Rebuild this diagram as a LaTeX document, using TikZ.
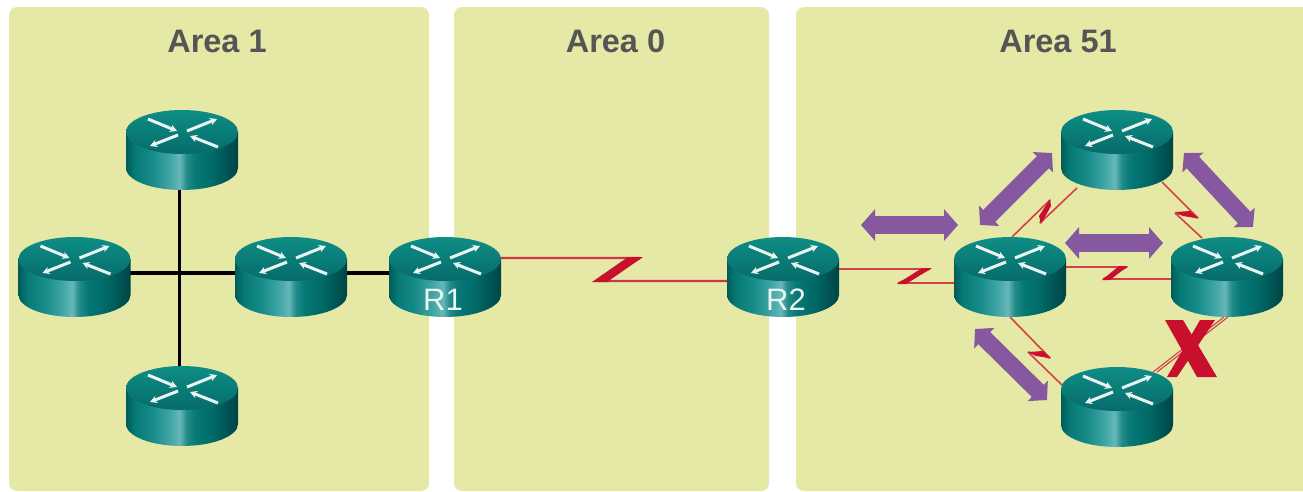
\documentclass[tikz,border=0pt]{standalone}
\usepackage{fontspec}
\setmainfont{Liberation Sans}
\usetikzlibrary{arrows.meta,calc}
\definecolor{areabg}{HTML}{E5E9A5}
\definecolor{serialred}{HTML}{C8102E}
\definecolor{seriallight}{HTML}{D2404A}
\definecolor{flowpurple}{HTML}{8558A0}
\definecolor{labelgray}{HTML}{555555}
\definecolor{rtop}{HTML}{0E8E86}
\definecolor{rbot}{HTML}{066B6A}
\definecolor{rarrow}{HTML}{EAF4F2}
\pgfdeclarehorizontalshading{routerbody}{100bp}{
  rgb(0bp)=(0,0.36,0.35);
  rgb(25bp)=(0,0.36,0.35);
  rgb(29bp)=(0.03,0.48,0.46);
  rgb(36bp)=(0.08,0.54,0.53);
  rgb(44bp)=(0.24,0.64,0.64);
  rgb(49bp)=(0.40,0.72,0.72);
  rgb(52bp)=(0.14,0.55,0.54);
  rgb(56bp)=(0.02,0.47,0.46);
  rgb(64bp)=(0.0,0.41,0.40);
  rgb(75bp)=(0,0.27,0.27);
  rgb(100bp)=(0,0.27,0.27)}
\tikzset{
  x=1pt,y=-1pt,
  areapanel/.style={fill=areabg,draw=none,rounded corners=8pt},
  arealabel/.style={font=\fontsize{32.5}{32.5}\selectfont\bfseries,text=labelgray,inner sep=0pt},
  routerbox/.style={draw=none,minimum width=112pt,minimum height=80pt,inner sep=0pt},
  routerlabel/.style={font=\fontsize{31}{31}\selectfont,text=rarrow,inner sep=0pt},
  serial/.style={draw=seriallight,line width=1.6pt,line join=bevel},
  serialthin/.style={draw=seriallight,line width=1.1pt},
  serialmain/.style={draw=serialred!85!white,line width=2.4pt,line join=bevel},
  zigfill/.style={fill=serialred,draw=none},
  ethernet/.style={draw=black,line width=3.6pt},
  flow/.style={draw=flowpurple,line width=18pt,{Triangle[length=14pt,width=31pt]}-{Triangle[length=14pt,width=31pt]},color=flowpurple},
  flowdiag/.style={draw=flowpurple,line width=17pt,{Triangle[length=13pt,width=28pt]}-{Triangle[length=13pt,width=28pt]},color=flowpurple},
  routerarrow/.style={draw=rarrow,line width=3pt,-{Stealth[length=7pt,width=7.5pt]},color=rarrow}
}
\newcommand{\routerart}[1]{%
  \begin{scope}[shift={(#1.center)}]
    \shade[shading=routerbody] (-56,-18) -- (-56,18)
      arc[start angle=180,end angle=0,x radius=56,y radius=22] -- (56,-18) -- cycle;
    \shade[top color=rtop,bottom color=rbot] (0,-18) ellipse[x radius=56,y radius=22];
    \draw[routerarrow] (-34,-31) -- (-5,-19);
    \draw[routerarrow] (5,-19) -- (35,-31);
    \draw[routerarrow] (-4,-15) -- (-32,-4);
    \draw[routerarrow] (36,-3) -- (8,-14);
  \end{scope}}
\begin{document}
\begin{tikzpicture}
\useasboundingbox (0,0) rectangle (1303,491);
\fill[white] (0,0) rectangle (1303,491);
\begin{scope}
\clip (0,0) rectangle (1303,491);
\fill[areapanel] (9,7) rectangle (429,491);
\fill[areapanel] (454,7) rectangle (769,491);
\fill[areapanel] (796,7) rectangle (1330,491);
\end{scope}
\node[arealabel] (a1) at (217,41) {Area 1};
\node[arealabel] (a0) at (615.5,41) {Area 0};
\node[arealabel] (a51) at (1058,41) {Area 51};
% routers
\node[routerbox] (tl) at (182,150) {};
\node[routerbox] (lf) at (74.5,277) {};
\node[routerbox] (md) at (291,277) {};
\node[routerbox] (bl) at (182,406) {};
\node[routerbox] (R1) at (445,277) {};
\node[routerbox] (R2) at (783,277) {};
\node[routerbox] (C) at (1010,277) {};
\node[routerbox] (T) at (1117,150) {};
\node[routerbox] (E) at (1227,277) {};
\node[routerbox] (B) at (1117,407) {};
% ethernet
\draw[ethernet] ($(tl)+(-2.5,0)$) -- ($(bl)+(-2.5,0)$);
\draw[ethernet] ($(lf)+(0,-4)$) -- ($(R1)+(0,-4)$);
% serial
\draw[serialmain] ($(R1)+(50,-19)$) -- (640,258) -- (597,281) -- ($(R2)+(-50,4)$);
\fill[zigfill] (628,257) -- (643,257) -- (607,282) -- (592,282) -- cycle;
\draw[serial] ($(R2)+(50,-8)$) -- (930,269) -- (898,283) -- ($(C)+(-50,6)$);
\fill[zigfill] (922,268) -- (932,268) -- (906,284) -- (897,284) -- cycle;
\draw[serial] ($(C)+(50,-10)$) -- (1127,267) -- (1103,279) -- ($(E)+(-50,2)$);
\fill[zigfill] (1119,266) -- (1128,266) -- (1110,280) -- (1102,280) -- cycle;
\draw[serial] ($(C)+(2,-40)$) -- (1050,200) -- (1040,223) -- ($(T)+(-40,38)$);
\fill[zigfill] (1050,199) -- (1051,206) -- (1041,224) -- (1039,216) -- cycle;
\draw[serial] ($(T)+(45,32)$) -- (1198,218) -- (1175,213) -- ($(E)+(-25,-39)$);
\fill[zigfill] (1190,211) -- (1198,218) -- (1183,216) -- (1175,212) -- cycle;
\draw[serial] ($(C)+(0,40)$) -- (1050,358) -- (1028,352) -- ($(B)+(-55,-22)$);
\fill[zigfill] (1043,351) -- (1051,358) -- (1036,356) -- (1028,352) -- cycle;
\draw[serialthin] ($(E)+(1,40)$) -- ($(B)+(40,-35)$);
\draw[serialthin] ($(E)+(-3,40)$) -- ($(B)+(36,-35)$);
% routers art
\routerart{tl}\routerart{lf}\routerart{md}\routerart{bl}\routerart{R1}
\routerart{R2}\routerart{C}\routerart{T}\routerart{E}\routerart{B}
\node[routerlabel] (l1) at ($(R1)+(-2,23)$) {R1};
\node[routerlabel] (l2) at ($(R2)+(3,23)$) {R2};
% flows
\coordinate (f1a) at (861,225); \coordinate (f1b) at (958,225);
\coordinate (f2a) at (1065,243); \coordinate (f2b) at (1163,243);
\coordinate (f3a) at (980,225); \coordinate (f3b) at (1052,153);
\coordinate (f4a) at (1184,153); \coordinate (f4b) at (1253,227);
\coordinate (f5a) at (975,329); \coordinate (f5b) at (1047,400);
\draw[flow] (f1a) -- (f1b);
\draw[flow] (f2a) -- (f2b);
\draw[flowdiag] (f3a) -- (f3b);
\draw[flowdiag] (f4a) -- (f4b);
\draw[flowdiag] (f5a) -- (f5b);
% X
\fill[serialred] (1165,320) -- (1183,320) -- (1217,377) -- (1197,377) -- cycle;
\fill[serialred] (1200,320) -- (1215,320) -- (1177,377) -- (1167,377) -- cycle;
\end{tikzpicture}
\end{document}
